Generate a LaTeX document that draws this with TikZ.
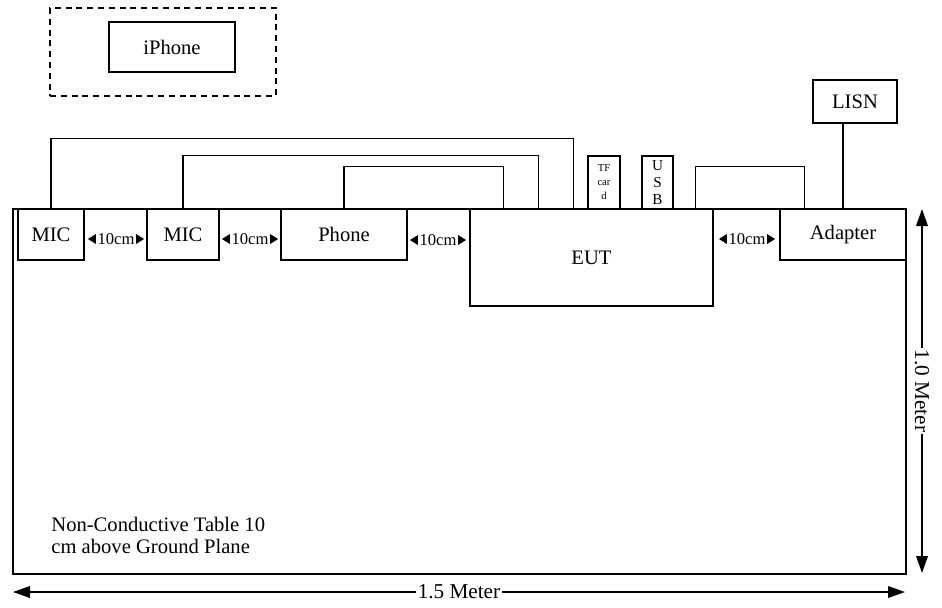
\documentclass[tikz,border=0pt]{standalone}
\usepackage{fontspec}
\setmainfont{Liberation Serif}
\usetikzlibrary{fit,calc,arrows.meta}
\newcommand\gapmark[3]{%
  \node[gaptxt] (#1) at (#2,#3) {10cm};
  \fill ([xshift=-0.6pt]#1.west) -- ++(0,-5) -- ++(-8,5) -- ++(8,5) -- cycle;
  \fill ([xshift=0.6pt]#1.east) -- ++(0,-5) -- ++(8,5) -- ++(-8,5) -- cycle;
}
\begin{document}
\begin{tikzpicture}[x=0.5pt,y=-0.5pt,
  box/.style={draw, line width=0.6pt, inner sep=0pt},
  lbl/.style={inner sep=0pt, align=center, font=\fontsize{10.3}{12}\selectfont},
  cable/.style={line width=0.6pt},
  gaptxt/.style={inner sep=0pt, font=\fontsize{8.3}{10}\selectfont},
  dim/.style={line width=0.8pt, {Triangle[length=8.5pt,width=5.8pt]}-{Triangle[length=8.5pt,width=5.8pt]}},
  dimtxt/.style={fill=white, inner sep=0.8pt, font=\fontsize{10.6}{12}\selectfont},
  notetxt/.style={anchor=base west, inner sep=0pt, font=\fontsize{10.3}{12}\selectfont}]
\useasboundingbox (0,0) rectangle (942,607);

% iPhone
\node[draw, line width=1pt, dash pattern=on 3pt off 2.4pt, inner sep=0pt, fit={(50,8) (276,96)}] (iparea) {};
\node[box, fit={(109,22) (235,72)}] (iphone) {};
\node[lbl] (iphonet) at (iphone.center) {iPhone};

% LISN
\node[box, fit={(813,80) (897,123)}] (lisn) {};
\node[lbl] (lisnt) at (lisn.center) {LISN};

% devices on table
\node[box, fit={(18,209) (84,260)}] (mic1) {};
\node[lbl] (mic1t) at (mic1.center) {MIC};
\node[box, fit={(147,209) (219,260)}] (mic2) {};
\node[lbl] (mic2t) at (mic2.center) {MIC};
\node[box, fit={(281,209) (407,260)}] (phone) {};
\node[lbl] (phonet) at (phone.center) {Phone};
\node[box, fit={(470,209) (713,306)}] (eut) {};
\node[lbl] (eutt) at (eut.center) {EUT};
\node[box, fit={(780,209) (906,260)}] (adapter) {};
\node[lbl] (adaptert) at (adapter.center) {Adapter};
\node[box, fit={(588,156) (620,209)}] (tf) {};
\node[lbl, font=\fontsize{5.3}{7}\selectfont] (tft) at (tf.center) {TF\\car\\d};
\node[box, fit={(642,156) (673,209)}] (usb) {};
\node[lbl, font=\fontsize{7.6}{8.6}\selectfont] (usbt) at (usb.center) {U\\S\\B};

% spacing marks
\gapmark{g1}{116}{239}
\gapmark{g2}{250}{239}
\gapmark{g3}{438}{240}
\gapmark{g4}{747}{239}

% cables
\draw[cable] (mic1.north) -- ++(0,-70) -| ($(eut.north west)+(104,0)$);
\draw[cable] (mic2.north) -- ++(0,-53) -| ($(eut.north west)+(69,0)$);
\draw[cable] (phone.north) -- ++(0,-42) -| ($(eut.north west)+(34,0)$);
\draw[cable] ($(eut.north east)+(-18,0)$) -- ++(0,-42) -| ($(adapter.north west)+(25,0)$);
\draw[line width=1.1pt] (adapter.north) -- (adapter.north |- lisn.south);

% table
\node[draw, line width=1.4pt, inner sep=0pt, fit={(13,209) (906,574)}] (table) {};
\node[notetxt] (note1) at (51,531) {Non-Conductive Table 10};
\node[notetxt] (note2) at (51,553) {cm above Ground Plane};

% dimensions
\coordinate (wl) at (13,592);
\coordinate (wr) at (905,592);
\coordinate (ht) at (922,209);
\coordinate (hb) at (922,573);
\draw[dim] (wl) -- (wr) node[dimtxt, midway] (wlab) {1.5 Meter};
\draw[dim] (ht) -- (hb) node[dimtxt, midway, rotate=-90] (hlab) {1.0 Meter};
\end{tikzpicture}
\end{document}
